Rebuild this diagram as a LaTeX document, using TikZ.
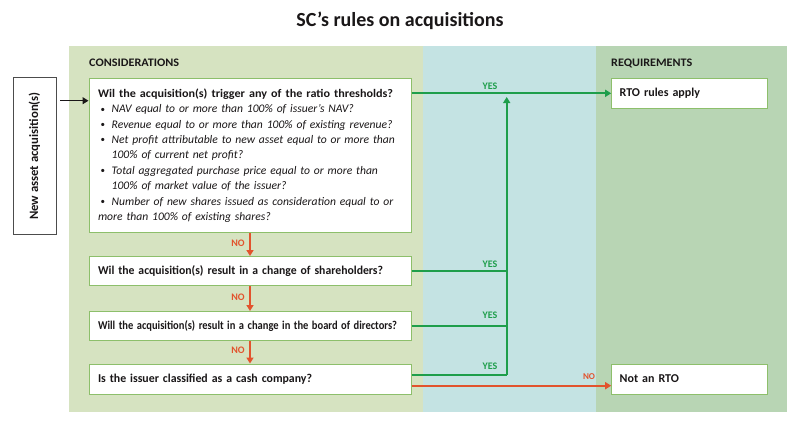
\documentclass[tikz,border=0pt]{standalone}
\usepackage{fontspec}
\usepackage{graphicx}
\setmainfont{Carlito}
\usetikzlibrary{arrows.meta,calc}
\definecolor{leftbg}{HTML}{D6E3C1}
\definecolor{midbg}{HTML}{C4E3E3}
\definecolor{rightbg}{HTML}{B8D5B4}
\definecolor{boxline}{HTML}{8DBF6B}
\definecolor{gline}{HTML}{1E9E4B}
\definecolor{rline}{HTML}{E2532D}
\definecolor{ink}{HTML}{1A1718}
\newcommand{\bitem}[1]{\par\noindent\hangindent=13.7pt\hangafter=1\hspace*{2.7pt}\makebox[11pt][l]{\raisebox{0.5pt}{\fontsize{9}{9}\selectfont\textbullet}}\textit{#1}}
\newcommand{\fitw}[2]{\resizebox{#1}{\height}{#2}}
\begin{document}
\begin{tikzpicture}[x=1pt,y=-1pt,
  every node/.style={text=ink},
  qbox/.style={draw=boxline, line width=1pt, fill=white, inner xsep=9pt, inner ysep=0pt,
    text width=304pt, align=left, font=\fontsize{11.6}{15.4}\selectfont},
  qfont/.style={font=\bfseries\fontsize{12}{13}\selectfont},
  rbox/.style={draw=boxline, line width=1pt, fill=white, inner xsep=8pt, inner ysep=0pt,
    text width=140pt, minimum height=30pt, align=left, font=\bfseries\fontsize{12}{13}\selectfont},
  nabox/.style={draw=black!70, line width=0.8pt, fill=white, minimum width=157pt, minimum height=43pt,
    inner sep=0pt, font=\bfseries\fontsize{12.7}{13}\selectfont},
  head/.style={font=\bfseries\fontsize{11.5}{12}\selectfont, inner sep=0pt, anchor=west},
  ttl/.style={font=\bfseries\fontsize{20}{22}\selectfont, inner sep=0pt},
  glinestyle/.style={draw=gline, line width=1.8pt},
  rlinestyle/.style={draw=rline, line width=1.8pt},
  tip/.style={-{Triangle[length=6pt,width=7pt]}},
  yeslab/.style={text=gline, font=\bfseries\fontsize{10}{10}\selectfont, inner sep=0pt},
  nolab/.style={text=rline, font=\bfseries\fontsize{10}{10}\selectfont, inner sep=0pt}
]
\useasboundingbox (0,0) rectangle (800,424);
\fill[white] (0,0) rectangle (800,424);
\fill[leftbg] (69,46) rectangle (423,412);
\fill[midbg] (423,46) rectangle (596,412);
\fill[rightbg] (596,46) rectangle (787,412);

\node[ttl] (title) at (400,21) {SC's rules on acquisitions};
\node[head] (cons) at (89,63) {\fitw{90pt}{CONSIDERATIONS}};
\node[head] (req) at (611,63) {\fitw{81pt}{REQUIREMENTS}};

\node[nabox, rotate=90] (na) at (34.5,156) {New asset acquisition(s)};

\node[qbox, minimum height=154pt] (b1) at (250,155.5) {\textbf{\fitw{295pt}{Wil the acquisition(s) trigger any of the ratio thresholds?}}
\bitem{NAV equal to or more than 100\% of issuer's NAV?}
\bitem{Revenue equal to or more than 100\% of existing revenue?}
\bitem{Net profit attributable to new asset equal to or more than\newline 100\% of current net profit?}
\bitem{Total aggregated purchase price equal to or more than\newline 100\% of market value of the issuer?}
\bitem{Number of new shares issued as consideration equal to or\newline more than 100\% of existing shares?}};

\node[qbox, qfont, minimum height=29pt] (b2) at (250,271) {\fitw{285pt}{Wil the acquisition(s) result in a change of shareholders?}};
\node[qbox, qfont, minimum height=29pt] (b3) at (250,326) {\fitw{299pt}{Will the acquisition(s) result in a change in the board of directors?}};
\node[qbox, qfont, minimum height=30pt] (b4) at (250,379) {\fitw{214pt}{Is the issuer classified as a cash company?}};

\node[rbox] (rto) at (689.7,93.3) {RTO rules apply};
\node[rbox] (notrto) at (689.7,379) {Not an RTO};

% entry arrow
\coordinate (a0) at (60,100.7);
\draw[line width=1.2pt, draw=ink, tip] (a0) -- (a0 -| b1.west);

% NO arrows down
\draw[rlinestyle, tip] (b1.south) -- (b2.north);
\draw[rlinestyle, tip] (b2.south) -- (b3.north);
\draw[rlinestyle, tip] (b3.south) -- (b4.north);
\node[nolab] (no1) at (238,243) {NO};
\node[nolab] (no2) at (238,297) {NO};
\node[nolab] (no3) at (238,350) {NO};

% YES lines
\coordinate (jtop) at (506.7,97);
\coordinate (g4) at ($(b4.east)+(0,-4)$);
\coordinate (j4) at (506.7,375);
\draw[glinestyle, tip] (b1.east |- rto.west) -- (rto.west);
\draw[glinestyle] (b2.east) -- (b2.east -| j4);
\draw[glinestyle] (b3.east) -- (b3.east -| j4);
\draw[glinestyle] (g4) -- (j4);
\draw[glinestyle, tip] (j4) -- (jtop);
\node[yeslab] (y1) at (490,86.7) {YES};
\node[yeslab] (y2) at (490,264.3) {YES};
\node[yeslab] (y3) at (490,315.3) {YES};
\node[yeslab] (y4) at (490,366.3) {YES};

% NO to Not an RTO
\coordinate (r0) at ($(b4.east)+(0,6.7)$);
\draw[rlinestyle, tip] (r0) -- (r0 -| notrto.west);
\node[nolab, font=\bfseries\fontsize{9}{9}\selectfont] (no4) at (589,377) {NO};
\end{tikzpicture}
\end{document}
